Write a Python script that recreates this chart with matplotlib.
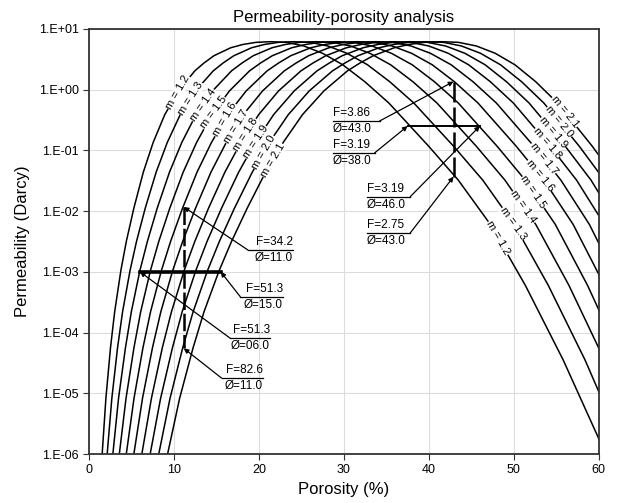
import numpy as np
import matplotlib
matplotlib.use('Agg')
import matplotlib.pyplot as plt
from matplotlib.ticker import NullLocator

plt.rcParams['font.family'] = ['Liberation Sans', 'DejaVu Sans']

# cementation exponents of the family of curves
m_values = [1.2, 1.3, 1.4, 1.5, 1.6, 1.7, 1.8, 1.9, 2.0, 2.1]

# permeability (Darcy) points along every curve: falling branch -> peak -> rising branch
perm = [1.12e-6, 3.55e-5, 6.03e-4, 6.03e-3, 0.0324, 0.117, 0.603, 1.35, 2.57, 3.98,
        5.25, 6.03, 6.17, 6.03, 5.56, 4.90, 3.63, 2.75, 2.04, 0.955,
        0.389, 0.135, 0.0437, 0.0112, 3.16e-3, 1.05e-3, 2.19e-4, 5.62e-5, 8.3e-6, 1.0e-6, 2.4e-7]

# porosity (%) of each curve at the permeability points above
por_m12 = [60.65, 55.80, 51.34, 47.24, 43.46, 39.98, 35.29, 32.47, 29.87, 27.48, 25.28, 23.26, 21.40, 19.69,
           18.12, 16.67, 14.71, 13.53, 12.45, 10.54, 8.92, 7.55, 6.39, 5.28, 4.39, 3.75, 3.02, 2.53, 1.99,
           1.55, 1.31]
por_m13 = [63.03, 58.37, 54.04, 50.04, 46.34, 42.91, 38.23, 35.40, 32.78, 30.35, 28.10, 26.02, 24.10, 22.31,
           20.66, 19.13, 17.05, 15.78, 14.62, 12.53, 10.74, 9.21, 7.90, 6.62, 5.59, 4.83, 3.95, 3.36, 2.69,
           2.14, 1.83]
por_m14 = [65.14, 60.65, 56.47, 52.58, 48.95, 45.58, 40.95, 38.13, 35.50, 33.05, 30.77, 28.65, 26.68, 24.84,
           23.12, 21.53, 19.34, 18.01, 16.77, 14.54, 12.60, 10.92, 9.47, 8.03, 6.87, 5.99, 4.98, 4.29, 3.48,
           2.81, 2.44]
por_m15 = [67.03, 62.71, 58.66, 54.88, 51.34, 48.03, 43.46, 40.66, 38.04, 35.58, 33.29, 31.14, 29.13, 27.25,
           25.50, 23.85, 21.58, 20.19, 18.89, 16.53, 14.47, 12.66, 11.08, 9.51, 8.21, 7.23, 6.08, 5.29, 4.36,
           3.57, 3.12]
por_m16 = [68.73, 64.57, 60.65, 56.98, 53.53, 50.28, 45.78, 43.01, 40.40, 37.96, 35.66, 33.50, 31.47, 29.56,
           27.77, 26.09, 23.75, 22.31, 20.96, 18.50, 16.32, 14.41, 12.71, 11.01, 9.60, 8.52, 7.24, 6.35, 5.30,
           4.39, 3.88]
por_m17 = [70.26, 66.25, 62.46, 58.89, 55.53, 52.36, 47.94, 45.20, 42.62, 40.18, 37.89, 35.72, 33.68, 31.76,
           29.94, 28.23, 25.85, 24.37, 22.98, 20.43, 18.16, 16.15, 14.35, 12.54, 11.02, 9.85, 8.45, 7.47, 6.30,
           5.28, 4.69]
por_m18 = [71.65, 67.78, 64.12, 60.65, 57.38, 54.27, 49.94, 47.24, 44.68, 42.27, 39.98, 37.82, 35.78, 33.85,
           32.02, 30.29, 27.87, 26.36, 24.94, 22.31, 19.97, 17.87, 15.99, 14.07, 12.45, 11.20, 9.70, 8.63, 7.35,
           6.22, 5.56]
por_m19 = [72.92, 69.18, 65.64, 62.27, 59.08, 56.05, 51.79, 49.14, 46.62, 44.23, 41.96, 39.81, 37.77, 35.83,
           34.00, 32.25, 29.80, 28.28, 26.83, 24.15, 21.73, 19.56, 17.61, 15.60, 13.89, 12.57, 10.96, 9.82, 8.43,
           7.20, 6.48]
por_m20 = [74.08, 70.47, 67.03, 63.76, 60.65, 57.70, 53.53, 50.92, 48.43, 46.07, 43.82, 41.69, 39.65, 37.72,
           35.88, 34.13, 31.66, 30.12, 28.65, 25.92, 23.46, 21.22, 19.21, 17.12, 15.34, 13.95, 12.25, 11.03, 9.54,
           8.21, 7.43]
por_m21 = [75.15, 71.65, 68.32, 65.14, 62.12, 59.23, 55.14, 52.58, 50.13, 47.80, 45.58, 43.46, 41.44, 39.51,
           37.67, 35.92, 33.45, 31.89, 30.41, 27.65, 25.13, 22.85, 20.78, 18.62, 16.77, 15.32, 13.53, 12.25, 10.67,
           9.25, 8.41]
curves = [por_m12, por_m13, por_m14, por_m15, por_m16, por_m17, por_m18, por_m19, por_m20, por_m21]

# permeability where the "m = .." labels sit on each curve
label_k_left = [0.91, 0.72, 0.56, 0.42, 0.32, 0.245, 0.18, 0.138, 0.094, 0.069]
label_k_right = [3.6e-3, 6.3e-3, 0.0117, 0.0205, 0.039, 0.074, 0.132, 0.20, 0.295, 0.43]

# callouts: F / porosity text, arrow tip, elbow and end of the underline
ann_f = ['F=34.2', 'F=51.3', 'F=51.3', 'F=82.6', 'F=3.86', 'F=3.19', 'F=3.19', 'F=2.75']
ann_phi = ['Ø=11.0', 'Ø=15.0', 'Ø=06.0', 'Ø=11.0', 'Ø=43.0', 'Ø=38.0', 'Ø=46.0', 'Ø=43.0']
ann_tip_x = [11.15, 15.5, 6.0, 11.15, 42.9, 37.5, 46.0, 42.9]
ann_tip_k = [0.0117, 1e-3, 1e-3, 5.5e-5, 1.36, 0.252, 0.252, 0.0369]
ann_elbow_x = [18.7, 17.8, 16.6, 15.6, 34.2, 33.6, 37.8, 37.8]
ann_end_x = [24.0, 22.8, 21.3, 20.5, 28.7, 28.7, 32.7, 32.7]
ann_line_k = [2.29e-3, 3.9e-4, 8.1e-5, 1.78e-5, 0.305, 0.0906, 0.01726, 4.36e-3]

ytick_vals = [1e-6, 1e-5, 1e-4, 1e-3, 1e-2, 1e-1, 1e0, 1e1]
ytick_labels = ['1.E-06', '1.E-05', '1.E-04', '1.E-03', '1.E-02', '1.E-01', '1.E+00', '1.E+01']
xtick_vals = [0, 10, 20, 30, 40, 50, 60]

fig = plt.figure(figsize=(6.18, 5.03), dpi=100)
ax = fig.add_axes([0.144, 0.0974, 0.825, 0.845])
ax.set_yscale('log')
ax.set_xlim(0, 60)
ax.set_ylim(1e-6, 10)

ax.set_yticks(ytick_vals)
ax.set_yticklabels(ytick_labels)
ax.yaxis.set_minor_locator(NullLocator())
ax.set_xticks(xtick_vals)
ax.tick_params(labelsize=9, length=4, width=0.8, color='#333333')
ax.grid(True, color='#dcdcdc', lw=0.8)
ax.set_axisbelow(True)
for sp in ax.spines.values():
    sp.set_color('#333333')
    sp.set_linewidth(1.3)

ax.set_title('Permeability-porosity analysis', fontsize=12, pad=5)
ax.set_xlabel('Porosity (%)', fontsize=12, labelpad=4)
ax.set_ylabel('Permeability (Darcy)', fontsize=12, labelpad=6)

logk = np.log10(perm)
ipk = int(np.argmax(perm))


def angle_at(xs, ks, i0, i1):
    # slope of the segment on screen, kept readable (between -90 and 90 degrees)
    p0 = ax.transData.transform((xs[i0], ks[i0]))
    p1 = ax.transData.transform((xs[i1], ks[i1]))
    a = np.degrees(np.arctan2(p1[1] - p0[1], p1[0] - p0[0]))
    if a > 90:
        a -= 180
    elif a < -90:
        a += 180
    return a


for m, por, kl, kr in zip(m_values, curves, label_k_left, label_k_right):
    ax.plot(por, perm, color='black', lw=1.1, zorder=2)
    por = np.array(por)
    # rising branch label
    xl = np.interp(np.log10(kl), logk[ipk:][::-1], por[ipk:][::-1])
    j = ipk + int(np.searchsorted(-logk[ipk:], -np.log10(kl)))
    rot = angle_at(por, perm, j, j - 1)
    ax.text(xl, kl, 'm = %.1f' % m, fontsize=8, rotation=rot, ha='center', va='center',
            rotation_mode='anchor', zorder=3,
            bbox=dict(facecolor='white', edgecolor='none', pad=0.3))
    # falling branch label
    xr = np.interp(np.log10(kr), logk[:ipk + 1], por[:ipk + 1])
    j = int(np.searchsorted(logk[:ipk + 1], np.log10(kr)))
    rot = angle_at(por, perm, j - 1, j)
    ax.text(xr, kr, 'm = %.1f' % m, fontsize=8, rotation=rot, ha='center', va='center',
            rotation_mode='anchor', zorder=3,
            bbox=dict(facecolor='white', edgecolor='none', pad=0.3))

# constant-permeability bars and constant-porosity dashed lines
ax.plot([ann_tip_x[2], ann_tip_x[1]], [ann_tip_k[2], ann_tip_k[1]], color='black', lw=2.6, zorder=4)
ax.plot([ann_tip_x[0], ann_tip_x[3]], [ann_tip_k[0], ann_tip_k[3]], color='black', lw=1.8,
        dashes=(7, 1.5), zorder=4)
ax.plot([ann_tip_x[5], ann_tip_x[6]], [ann_tip_k[5], ann_tip_k[6]], color='black', lw=1.4, zorder=4)
ax.plot([ann_tip_x[4], ann_tip_x[7]], [ann_tip_k[4], ann_tip_k[7]], color='black', lw=1.8,
        dashes=(8, 2), zorder=4)

for f, ph, tx, tk, ex, nx, lk in zip(ann_f, ann_phi, ann_tip_x, ann_tip_k, ann_elbow_x, ann_end_x, ann_line_k):
    ax.plot([ex, nx], [lk, lk], color='black', lw=0.9, zorder=4)
    ax.annotate('', xy=(tx, tk), xytext=(ex, lk),
                arrowprops=dict(arrowstyle='-|>', color='black', lw=0.9, mutation_scale=7,
                                shrinkA=0, shrinkB=0), zorder=4)
    ha = 'right' if nx > ex else 'left'
    ax.annotate(f, xy=(nx, lk), xytext=(0, 1.5), textcoords='offset points', ha=ha, va='bottom',
                fontsize=8.5, zorder=5)
    ax.annotate(ph, xy=(nx, lk), xytext=(0, -1.5), textcoords='offset points', ha=ha, va='top',
                fontsize=8.5, zorder=5)

fig.savefig('out.png', dpi=100)
